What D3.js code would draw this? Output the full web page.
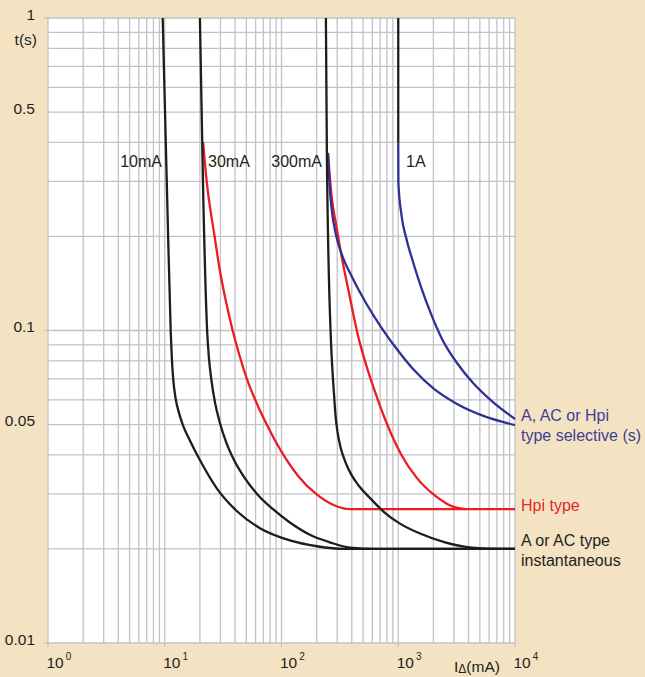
<!DOCTYPE html>
<html>
<head>
<meta charset="utf-8">
<script src="https://cdn.jsdelivr.net/npm/d3@7"></script>
<style>
  html, body { margin: 0; padding: 0; background: #f3e3c2; }
  svg { display: block; font-family: "Liberation Sans", Arial, sans-serif; }
</style>
</head>
<body>
<div id="chart"></div>
<script>
// current (mA), time (s)
var black10 = [[9.6, 1], [10.5, 0.2616], [11.25, 0.0989], [11.5, 0.0817], [11.84, 0.0694],
  [12.37, 0.0608], [13.1, 0.0553], [14.3, 0.0498], [16.5, 0.0443], [20, 0.0385], [28, 0.0312],
  [41.6, 0.0264], [65.4, 0.0233], [118, 0.0213], [201, 0.0204], [350, 0.02], [1000, 0.02],
  [10000, 0.02]];
var black30 = [[20, 1], [21.4, 0.2616], [23.1, 0.0989], [23.9, 0.0817], [25.1, 0.0694],
  [26.9, 0.059], [29.7, 0.0506], [33.5, 0.044], [39.2, 0.0385], [47.7, 0.034], [61.7, 0.03],
  [84.6, 0.0268], [118, 0.0243], [175, 0.0222], [260, 0.021], [386, 0.0202], [632, 0.02],
  [2000, 0.02], [10000, 0.02]];
var black300 = [[240, 1], [245, 0.351], [265, 0.0932], [273, 0.0747], [282, 0.0622],
  [290, 0.0536], [302, 0.0473], [320, 0.0424], [350, 0.0382], [394, 0.0347], [461, 0.0318],
  [573, 0.0291], [755, 0.02625], [1035, 0.0241], [1536, 0.0224], [2515, 0.021],
  [4281, 0.0202], [7436, 0.02], [10000, 0.02]];
var black1000 = [[1000, 1], [1000, 0.4]];

var red30 = [[21.3, 0.401], [22.8, 0.303], [24.4, 0.2485], [26.7, 0.2006], [29.4, 0.1585],
  [33.1, 0.1261], [37.7, 0.1019], [43.3, 0.0841], [50.6, 0.0699], [61.7, 0.0582],
  [78.2, 0.0484], [103, 0.0402], [141, 0.034], [198, 0.03], [276, 0.0277], [386, 0.0268],
  [1500, 0.0268], [10000, 0.0268]];
var red300 = [[250, 0.37], [268, 0.2714], [296, 0.2144], [328, 0.1718], [374, 0.1348],
  [455, 0.0953], [509, 0.0817], [620, 0.065], [801, 0.0502], [1056, 0.0402], [1447, 0.0337],
  [2147, 0.0293], [2944, 0.0273], [3805, 0.0268]];

var blue300 = [[250, 0.37], [258, 0.292], [271, 0.2394], [293, 0.2021], [330, 0.1744],
  [402, 0.1483], [529, 0.1225], [712, 0.1026], [957, 0.0879], [1364, 0.0747], [2024, 0.065],
  [3186, 0.0582], [5427, 0.0532], [10000, 0.0498]];
var blue1000 = [[1000, 0.4], [1003, 0.2965], [1066, 0.234], [1181, 0.195], [1337, 0.166],
  [1566, 0.138], [1908, 0.113], [2370, 0.094], [3186, 0.0787], [4454, 0.0674],
  [6479, 0.059], [10000, 0.0521]];

var yTickValues = [1, 0.5, 0.1, 0.05, 0.01];
var yTickLabels = ["1", "0.5", "0.1", "0.05", "0.01"];
var xTickExponents = [0, 1, 2, 3, 4];
var curveNames = ["10mA", "30mA", "300mA", "1A"];

var chart_width = 645;
var chart_height = 677;
var plotLeft = 48, plotRight = 515, plotTop = 18, plotBottom = 643;

var x_scale = d3.scaleLog().domain([1, 10000]).range([plotLeft, plotRight]);
var y_scale = d3.scaleLog().domain([0.01, 1]).range([plotBottom, plotTop]);

var svg = d3
  .select("#chart")
  .append("svg")
  .attr("width", chart_width)
  .attr("height", chart_height);

svg.append("rect")
  .attr("width", chart_width)
  .attr("height", chart_height)
  .attr("fill", "#f3e3c2");

svg.append("rect")
  .attr("x", plotLeft)
  .attr("y", plotTop)
  .attr("width", plotRight - plotLeft)
  .attr("height", plotBottom - plotTop)
  .attr("fill", "#fff");

// Grid
var gridColor = "#c2c2c7";
svg.append("g")
  .selectAll("line")
  .data(x_scale.ticks())
  .enter()
  .append("line")
  .attr("x1", d => x_scale(d))
  .attr("x2", d => x_scale(d))
  .attr("y1", plotTop)
  .attr("y2", plotBottom)
  .attr("stroke", gridColor)
  .attr("stroke-width", 1.3);

svg.append("g")
  .selectAll("line")
  .data(y_scale.ticks())
  .enter()
  .append("line")
  .attr("x1", plotLeft)
  .attr("x2", plotRight)
  .attr("y1", d => y_scale(d))
  .attr("y2", d => y_scale(d))
  .attr("stroke", gridColor)
  .attr("stroke-width", 1.3);

// small ticks outside the frame at decades
svg.append("g")
  .selectAll("line")
  .data(xTickExponents)
  .enter()
  .append("line")
  .attr("x1", d => x_scale(Math.pow(10, d)))
  .attr("x2", d => x_scale(Math.pow(10, d)))
  .attr("y1", plotBottom)
  .attr("y2", plotBottom + 4)
  .attr("stroke", gridColor)
  .attr("stroke-width", 1.3);

svg.append("g")
  .selectAll("line")
  .data([1, 0.1, 0.01])
  .enter()
  .append("line")
  .attr("x1", plotLeft - 4)
  .attr("x2", plotLeft)
  .attr("y1", d => y_scale(d))
  .attr("y2", d => y_scale(d))
  .attr("stroke", gridColor)
  .attr("stroke-width", 1.3);

// Curves
var line = d3.line()
  .x(d => x_scale(d[0]))
  .y(d => y_scale(d[1]))
  .curve(d3.curveMonotoneX);

function drawCurve(data, color) {
  svg.append("path")
    .datum(data)
    .attr("d", line)
    .attr("fill", "none")
    .attr("stroke", color)
    .attr("stroke-width", 2.3)
    .attr("stroke-linejoin", "round");
}

drawCurve(red30, "#ec1c24");
drawCurve(red300, "#ec1c24");
drawCurve(blue300, "#2e3192");
drawCurve(blue1000, "#2e3192");
drawCurve(black10, "#1d1d1b");
drawCurve(black30, "#1d1d1b");
drawCurve(black300, "#1d1d1b");
drawCurve(black1000, "#1d1d1b");

// Curve labels
var labelPos = [[162, "end"], [208, "start"], [322, "end"], [406, "start"]];
svg.append("g")
  .selectAll("text")
  .data(curveNames)
  .enter()
  .append("text")
  .attr("x", (d, i) => labelPos[i][0])
  .attr("y", 167)
  .attr("text-anchor", (d, i) => labelPos[i][1])
  .attr("font-size", 16)
  .attr("fill", "#231f20")
  .text(d => d);

// Y labels
svg.append("g")
  .selectAll("text")
  .data(yTickValues)
  .enter()
  .append("text")
  .attr("x", 35)
  .attr("y", d => y_scale(d) + 1.5)
  .attr("text-anchor", "end")
  .attr("font-size", 15.5)
  .attr("fill", "#231f20")
  .text((d, i) => yTickLabels[i]);

svg.append("text")
  .attr("x", 37)
  .attr("y", 44.5)
  .attr("text-anchor", "end")
  .attr("font-size", 15.5)
  .attr("fill", "#231f20")
  .text("t(s)");

// X labels
var xl = svg.append("g")
  .selectAll("text")
  .data(xTickExponents)
  .enter()
  .append("text")
  .attr("x", d => x_scale(Math.pow(10, d)) - 1.5)
  .attr("y", 668)
  .attr("font-size", 15.5)
  .attr("fill", "#231f20");
xl.append("tspan").text("10");
xl.append("tspan")
  .attr("dx", 2)
  .attr("dy", -8)
  .attr("font-size", 10)
  .text(d => d);

var xt = svg.append("text")
  .attr("x", 454)
  .attr("y", 672)
  .attr("font-size", 15.5)
  .attr("fill", "#231f20");
xt.append("tspan").text("I");
xt.append("tspan").attr("font-size", 12).attr("dy", 1).text("\u0394");
xt.append("tspan").attr("dy", -1).text("(mA)");

// Right legend
function rightLabel(lines, y0, color) {
  svg.append("g")
    .selectAll("text")
    .data(lines)
    .enter()
    .append("text")
    .attr("x", 521)
    .attr("y", (d, i) => y0 + i * 20)
    .attr("font-size", 16)
    .attr("fill", color)
    .text(d => d);
}
rightLabel(["A, AC or Hpi", "type selective (s)"], 421, "#3d3f93");
rightLabel(["Hpi type"], 511, "#e8262b");
rightLabel(["A or AC type", "instantaneous"], 546, "#231f20");
</script>
</body>
</html>
